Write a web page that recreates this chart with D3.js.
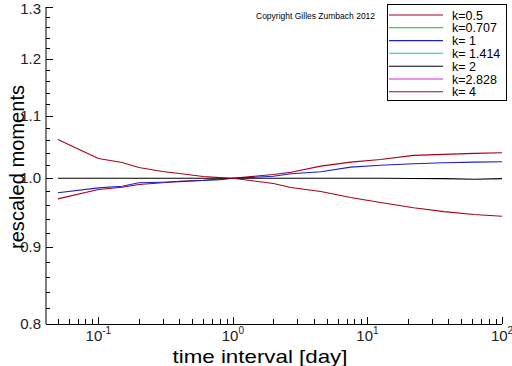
<!DOCTYPE html>
<html><head><meta charset="utf-8">
<script src="https://cdn.jsdelivr.net/npm/d3@7"></script>
<style>
body{margin:0;background:#fff;}
svg{display:block;font-family:"Liberation Sans",Arial,sans-serif;}
</style></head>
<body><svg id="c" width="512" height="366"></svg>
<script>
// ---- data ----
const timeIntervals = [0.05, 0.1, 0.15, 0.2, 0.3, 0.4, 0.6, 0.8, 1, 2, 2.7, 4.5, 7.5, 12.5, 22, 37, 62, 100];
const seriesK05   = [0.969, 0.9829, 0.9864, 0.9905, 0.9931, 0.9956, 0.9971, 0.999, 1.0, 1.0059, 1.0094, 1.0188, 1.0251, 1.0293, 1.0357, 1.0373, 1.0389, 1.040];
const seriesK0707 = [];
const seriesK1    = [0.978, 0.9855, 0.988, 0.9931, 0.994, 0.995, 0.9966, 0.998, 1.0, 1.0032, 1.0069, 1.0100, 1.0172, 1.0203, 1.0225, 1.0241, 1.0251, 1.0257];
const seriesK1414 = [];
const seriesK2    = [1, 1, 1, 1, 1, 1, 1, 1, 1, 1, 1, 1, 1, 1, 0.9998, 0.9995, 0.9985, 0.9995];
const seriesK2828 = [];
const seriesK4    = [1.0614, 1.0309, 1.0246, 1.0167, 1.0105, 1.0074, 1.0028, 1.001, 1.0, 0.992, 0.986, 0.980, 0.971, 0.9635, 0.956, 0.9503, 0.946, 0.9435];
const legendLabels = ["k=0.5", "k=0.707", "k= 1", "k= 1.414", "k= 2", "k=2.828", "k= 4"];
const seriesColors = ["#a8001c", "#10c010", "#2020c0", "#20e0e0", "#000000", "#e020e0", "#a8001c"];
const yTicks = [0.8, 0.9, 1.0, 1.1, 1.2, 1.3];
const xTicks = [0.1, 1, 10, 100];
const xExponents = ["-1", "0", "1", "2"];
const copyright = "Copyright Gilles Zumbach 2012";

const allSeries = [seriesK05, seriesK0707, seriesK1, seriesK1414, seriesK2, seriesK2828, seriesK4];

const svg = d3.select("#c");
const x = d3.scaleLog().domain([0.0408, 100]).range([46, 502]);
const y = d3.scaleLog().domain([0.8, 1.3]).range([324, 7]);

// curves
const line = d3.line().x(d => x(d[0])).y(d => y(d[1]));
allSeries.forEach((s, i) => {
  if (!s.length) return;
  svg.append("path")
    .datum(s.map((v, j) => [timeIntervals[j], v]))
    .attr("d", line).attr("fill", "none")
    .attr("stroke", seriesColors[i]).attr("stroke-width", 1.1);
});

// y axis
const yMinor = d3.range(0.8, 1.3001, 0.02).map(v => +v.toFixed(2));
const gy = svg.append("g");
gy.append("line").attr("x1", 46).attr("x2", 46).attr("y1", y(1.3)).attr("y2", 324).attr("stroke", "#000");
gy.selectAll(".ym").data(yMinor).enter().append("line")
  .attr("x1", 46).attr("x2", 50).attr("y1", d => Math.round(y(d)) + 0.5).attr("y2", d => Math.round(y(d)) + 0.5).attr("stroke", "#000");
gy.selectAll(".yM").data(yTicks).enter().append("line")
  .attr("x1", 46).attr("x2", 53).attr("y1", d => Math.round(y(d)) + 0.5).attr("y2", d => Math.round(y(d)) + 0.5).attr("stroke", "#000");
gy.selectAll("text").data(yTicks).enter().append("text")
  .attr("x", 41).attr("y", d => Math.max(y(d) + 5, 14)).attr("text-anchor", "end")
  .attr("font-size", 15).attr("fill", "#222").text(d => d.toFixed(1));

// x axis
const xMinor = [];
[0.01, 0.1, 1, 10].forEach(dec => { for (let m = 1; m <= 9; m++) { const v = dec * m; if (v >= 0.0408 && v <= 100) xMinor.push(v); } });
xMinor.push(100);
const gx = svg.append("g");
gx.append("line").attr("x1", 46).attr("x2", 502).attr("y1", 324.5).attr("y2", 324.5).attr("stroke", "#000");
gx.selectAll(".xm").data(xMinor).enter().append("line")
  .attr("x1", d => Math.round(x(d)) + 0.5).attr("x2", d => Math.round(x(d)) + 0.5)
  .attr("y1", 324).attr("y2", d => xTicks.includes(d) ? 317 : 319).attr("stroke", "#000");
const xl = gx.selectAll(".xl").data(xTicks).enter().append("text")
  .attr("x", d => x(d)).attr("y", 341).attr("text-anchor", "middle").attr("fill", "#222").attr("font-size", 15);
xl.append("tspan").text("10");
xl.append("tspan").attr("dy", -7).attr("font-size", 10).text((d, i) => xExponents[i]);

// axis titles
svg.append("text").attr("x", 260).attr("y", 363).attr("text-anchor", "middle")
  .attr("font-size", 19).attr("fill", "#000")
  .attr("textLength", 175).attr("lengthAdjust", "spacingAndGlyphs").text("time interval [day]");
svg.append("text").attr("transform", "translate(24,167) rotate(-90)").attr("text-anchor", "middle")
  .attr("font-size", 20).attr("fill", "#000")
  .attr("textLength", 164).attr("lengthAdjust", "spacingAndGlyphs").text("rescaled moments");

// copyright
svg.append("text").attr("x", 256).attr("y", 19).attr("font-size", 8.5).attr("fill", "#000").text(copyright);

// legend
const lg = svg.append("g");
lg.append("rect").attr("x", 387.5).attr("y", 4.5).attr("width", 119).attr("height", 96)
  .attr("fill", "#fff").attr("stroke", "#000");
legendLabels.forEach((lab, i) => {
  const ly = 15 + i * 12.8;
  lg.append("line").attr("x1", 389).attr("x2", 443).attr("y1", ly).attr("y2", ly)
    .attr("stroke", seriesColors[i]).attr("stroke-width", 1.1);
  lg.append("text").attr("x", 452).attr("y", ly + 4.5).attr("font-size", 12.5).attr("fill", "#000").text(lab);
});
</script></body></html>
